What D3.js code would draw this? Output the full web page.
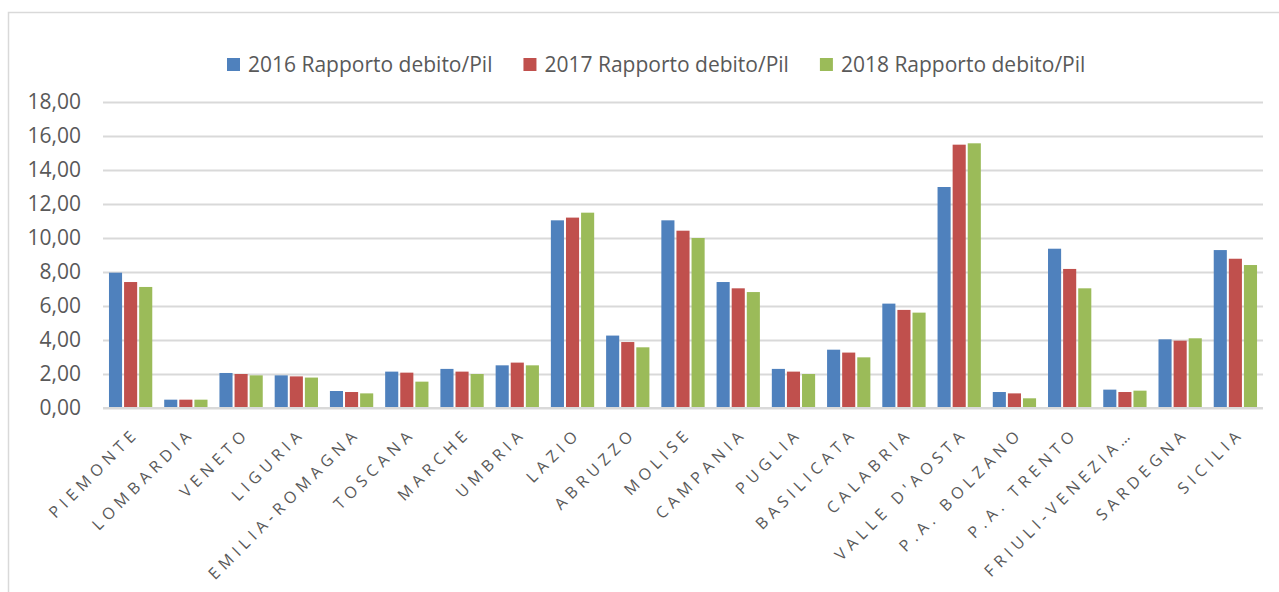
<!DOCTYPE html>
<html><head><meta charset="utf-8">
<script src="https://cdn.jsdelivr.net/npm/d3@7"></script>
<style>
body{margin:0;background:#fff;}
svg text{font-family:"Open Sans",sans-serif;fill:#595959;}
</style>
</head><body>
<svg id="chart" width="1279" height="592"></svg>
<script>
const categories = ["PIEMONTE","LOMBARDIA","VENETO","LIGURIA","EMILIA-ROMAGNA","TOSCANA","MARCHE","UMBRIA","LAZIO","ABRUZZO","MOLISE","CAMPANIA","PUGLIA","BASILICATA","CALABRIA","VALLE D'AOSTA","P.A. BOLZANO","P.A. TRENTO","FRIULI-VENEZIA…","SARDEGNA","SICILIA"];
const seriesNames = ["2016 Rapporto debito/Pil","2017 Rapporto debito/Pil","2018 Rapporto debito/Pil"];
const values2016 = [7.96,0.49,2.06,1.92,1.00,2.14,2.30,2.51,11.04,4.26,11.04,7.41,2.30,3.43,6.14,13.00,0.94,9.37,1.08,4.04,9.29];
const values2017 = [7.41,0.49,2.00,1.86,0.94,2.08,2.14,2.67,11.20,3.88,10.43,7.04,2.14,3.26,5.77,15.49,0.86,8.18,0.94,3.96,8.78];
const values2018 = [7.12,0.49,1.92,1.79,0.86,1.55,2.00,2.51,11.49,3.57,10.00,6.82,2.00,2.98,5.61,15.57,0.57,7.04,1.02,4.10,8.41];
const yTicks = [0,2,4,6,8,10,12,14,16,18];
const colors = ["#4F81BD","#C0504D","#9BBB59"];

const allSeries = [values2016, values2017, values2018];
const svg = d3.select("#chart");

// chart area border
svg.append("rect").attr("x",8.5).attr("y",12.5).attr("width",1290).attr("height",600)
  .attr("fill","none").attr("stroke","#D9D9D9").attr("stroke-width",1.5);

const pLeft = 103, pRight = 1263, pTop = 102, pBottom = 408;
const y = d3.scaleLinear().domain([0,18]).range([pBottom, pTop]);
const x0 = d3.scaleBand().domain(categories).range([pLeft,pRight]).paddingInner(0.18).paddingOuter(0.09);
const x1 = d3.scaleBand().domain(d3.range(3)).range([0,x0.bandwidth()]).padding(0);

// y axis + gridlines
const yAxis = d3.axisLeft(y).tickValues(yTicks).tickSize(-(pRight-pLeft)).tickPadding(22)
  .tickFormat(d => d3.format(".2f")(d).replace(".",","));
const gy = svg.append("g").attr("transform",`translate(${pLeft},0)`).call(yAxis);
gy.select(".domain").remove();
gy.selectAll(".tick line").attr("stroke","#D9D9D9").attr("stroke-width",2);
gy.selectAll(".tick text").attr("font-size",21).style("fill","#595959");

// bars
const groups = svg.append("g").selectAll("g").data(categories).join("g")
  .attr("transform",d=>`translate(${x0(d)},0)`);
groups.selectAll("rect").data((d,i)=>allSeries.map((s,k)=>({k, v:s[i]}))).join("rect")
  .attr("x",d=>x1(d.k)+1).attr("width",x1.bandwidth()-2)
  .attr("y",d=>y(d.v)).attr("height",d=>y(0)-y(d.v))
  .attr("fill",d=>colors[d.k]);

// x axis labels
const xAxis = d3.axisBottom(x0).tickSize(0).tickPadding(0);
const gx = svg.append("g").attr("transform",`translate(0,${pBottom})`).call(xAxis);
gx.select(".domain").remove();
const ls = 5;
gx.selectAll(".tick text")
  .attr("font-size",16).style("fill","#595959")
  .attr("letter-spacing",ls+"px")
  .attr("text-anchor","end")
  .attr("y",0).attr("dy",0)
  .attr("transform","translate(6,30) rotate(-45)")
  .attr("dx",ls);

// baseline axis line
svg.append("line").attr("x1",pLeft).attr("x2",pRight).attr("y1",pBottom).attr("y2",pBottom)
  .attr("stroke","#D9D9D9").attr("stroke-width",2);

// legend
const leg = svg.append("g");
let lx = 227;
seriesNames.forEach((n,k)=>{
  leg.append("rect").attr("x",lx).attr("y",58).attr("width",13).attr("height",13).attr("fill",colors[k]);
  const t = leg.append("text").attr("x",lx+21).attr("y",72).attr("font-size",21).text(n);
  lx += 21 + t.node().getComputedTextLength() + 31;
});
</script>
</body></html>
